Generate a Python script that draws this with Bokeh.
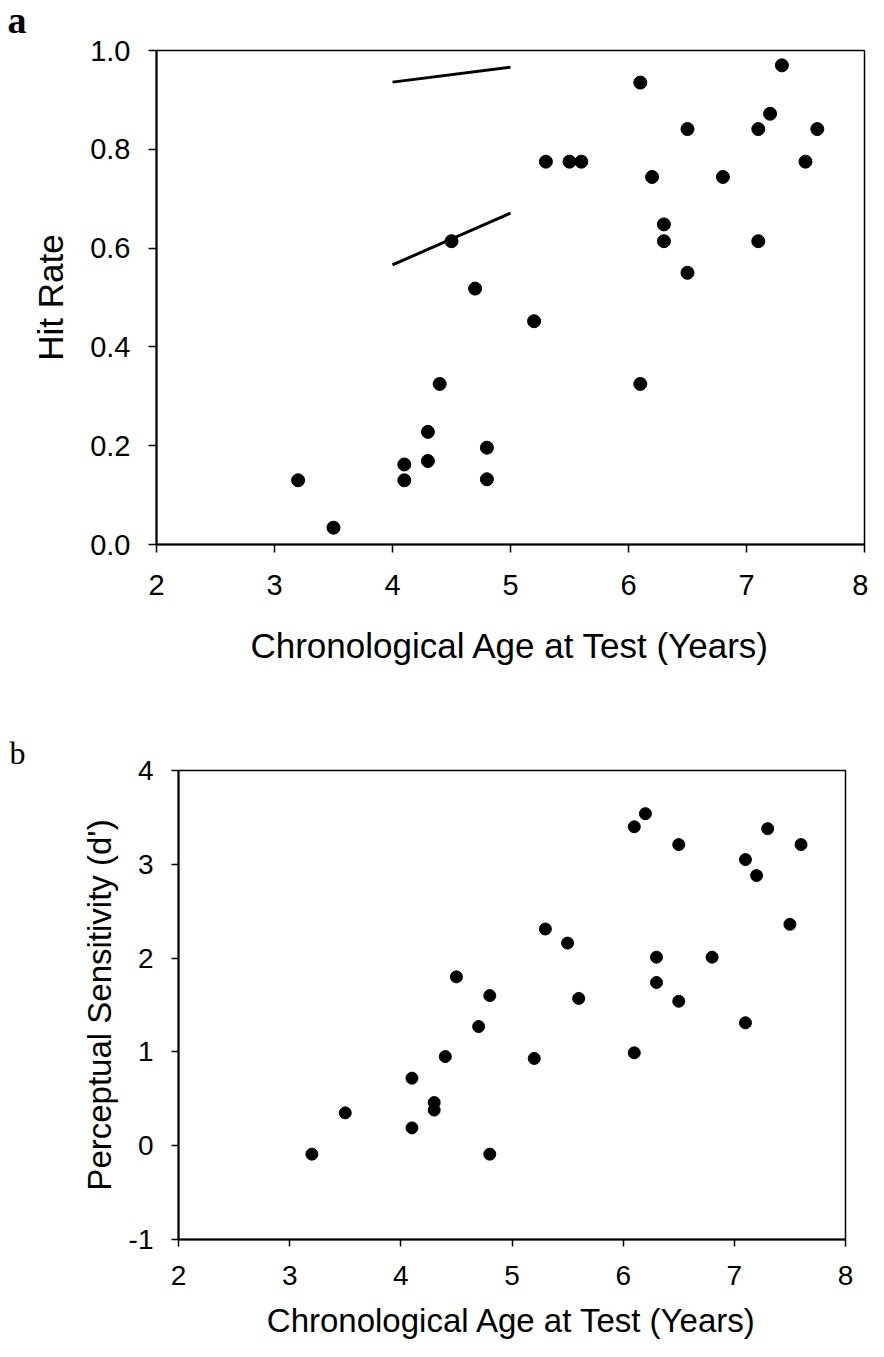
from bokeh.plotting import figure
from bokeh.models import Range1d, FixedTicker, Label, PrintfTickFormatter
from bokeh.embed import file_html
from bokeh.resources import INLINE

# ---------------- data ----------------
# Panel a: hit rate by chronological age
age_a = [3.2, 3.5, 4.1, 4.1, 4.3, 4.3, 4.4, 4.5, 4.7, 4.8, 4.8, 5.2, 5.3, 5.5,
         5.6, 6.1, 6.1, 6.2, 6.3, 6.3, 6.5, 6.5, 6.8, 7.1, 7.1, 7.2, 7.3, 7.5, 7.6]
hit_rate = [0.130, 0.034, 0.162, 0.130, 0.228, 0.169, 0.325, 0.614, 0.518, 0.196,
            0.132, 0.452, 0.775, 0.775, 0.775, 0.935, 0.325, 0.744, 0.648, 0.614,
            0.841, 0.550, 0.744, 0.841, 0.614, 0.872, 0.970, 0.775, 0.841]

# two line segments drawn in panel a
seg_x0 = [4.0, 4.0]
seg_y0 = [0.936, 0.566]
seg_x1 = [5.0, 5.0]
seg_y1 = [0.966, 0.671]

# Panel b: perceptual sensitivity (d') by chronological age
age_b = [3.2, 3.5, 4.1, 4.1, 4.3, 4.3, 4.4, 4.5, 4.7, 4.8, 4.8, 5.2, 5.3, 5.5,
         5.6, 6.1, 6.1, 6.2, 6.3, 6.3, 6.5, 6.5, 6.8, 7.1, 7.1, 7.2, 7.3, 7.5, 7.6]
dprime = [-0.09, 0.35, 0.72, 0.19, 0.46, 0.38, 0.95, 1.80, 1.27, 1.60, -0.09,
          0.93, 2.31, 2.16, 1.57, 3.40, 0.99, 3.54, 2.01, 1.74, 3.21, 1.54,
          2.01, 3.05, 1.31, 2.88, 3.38, 2.36, 3.21]

x_ticks = [2, 3, 4, 5, 6, 7, 8]
y_ticks_a = [0.0, 0.2, 0.4, 0.6, 0.8, 1.0]
y_ticks_b = [-1, 0, 1, 2, 3, 4]

x_label = "Chronological Age at Test (Years)"
y_label_a = "Hit Rate"
y_label_b = "Perceptual Sensitivity (d')"

SANS = "Liberation Sans"
SERIF = "Liberation Serif"


def style(p, tick_font, label_font, tick_out, xstand, ystand, xlab_stand, ylab_stand):
    p.xgrid.grid_line_color = None
    p.ygrid.grid_line_color = None
    p.outline_line_color = "black"
    p.outline_line_width = 1.5
    for ax in (p.xaxis[0], p.yaxis[0]):
        ax.axis_line_color = "black"
        ax.axis_line_width = 2
        ax.major_tick_line_color = "black"
        ax.major_tick_line_width = 1.5
        ax.major_tick_in = 0
        ax.major_tick_out = tick_out
        ax.minor_tick_line_color = None
        ax.major_label_text_font = SANS
        ax.major_label_text_font_size = f"{tick_font}px"
        ax.major_label_text_color = "black"
        ax.axis_label_text_font = SANS
        ax.axis_label_text_font_size = f"{label_font}px"
        ax.axis_label_text_font_style = "normal"
        ax.axis_label_text_color = "black"
    p.xaxis[0].major_label_standoff = xstand
    p.yaxis[0].major_label_standoff = ystand
    p.xaxis[0].axis_label_standoff = xlab_stand
    p.yaxis[0].axis_label_standoff = ylab_stand


# ---------------- panel a ----------------
pa = figure(width=868, height=672, output_backend="svg", toolbar_location=None,
            x_range=Range1d(2, 8), y_range=Range1d(0, 1),
            min_border_left=156, min_border_right=4,
            min_border_top=50, min_border_bottom=128,
            x_axis_label=x_label, y_axis_label=y_label_a)
pa.background_fill_color = "white"
pa.border_fill_color = "white"
pa.xaxis.ticker = FixedTicker(ticks=x_ticks)
pa.yaxis.ticker = FixedTicker(ticks=y_ticks_a)
pa.yaxis.formatter = PrintfTickFormatter(format="%.1f")
style(pa, 29, 35, 8, 22, 18, 28, 17)

pa.segment(x0=seg_x0, y0=seg_y0, x1=seg_x1, y1=seg_y1,
           line_color="black", line_width=3)
pa.scatter(age_a, hit_rate, size=13, fill_color="black", line_color="black")

pa.add_layout(Label(x=-149, y=31, x_units="screen", y_units="screen",
                    text="a", text_font=SERIF, text_font_style="bold",
                    text_font_size="38px", text_color="black",
                    text_baseline="alphabetic"), "above")

# ---------------- panel b ----------------
pb = figure(width=868, height=669, output_backend="svg", toolbar_location=None,
            x_range=Range1d(2, 8), y_range=Range1d(-1, 4),
            min_border_left=178, min_border_right=23,
            min_border_top=98, min_border_bottom=102,
            x_axis_label=x_label, y_axis_label=y_label_b)
pb.background_fill_color = "white"
pb.border_fill_color = "white"
pb.xaxis.ticker = FixedTicker(ticks=x_ticks)
pb.yaxis.ticker = FixedTicker(ticks=y_ticks_b)
pb.yaxis.formatter = PrintfTickFormatter(format="%d")
style(pb, 28, 33, 7, 19, 18, 14, 8)

pb.scatter(age_b, dprime, size=12, fill_color="black", line_color="black")

pb.add_layout(Label(x=-169, y=18, x_units="screen", y_units="screen",
                    text="b", text_font=SERIF, text_font_style="normal",
                    text_font_size="32px", text_color="black",
                    text_baseline="alphabetic"), "above")

# two independent roots stacked vertically, so that each plot frame keeps its own geometry
open("out.html", "w").write(file_html([pa, pb], INLINE))
